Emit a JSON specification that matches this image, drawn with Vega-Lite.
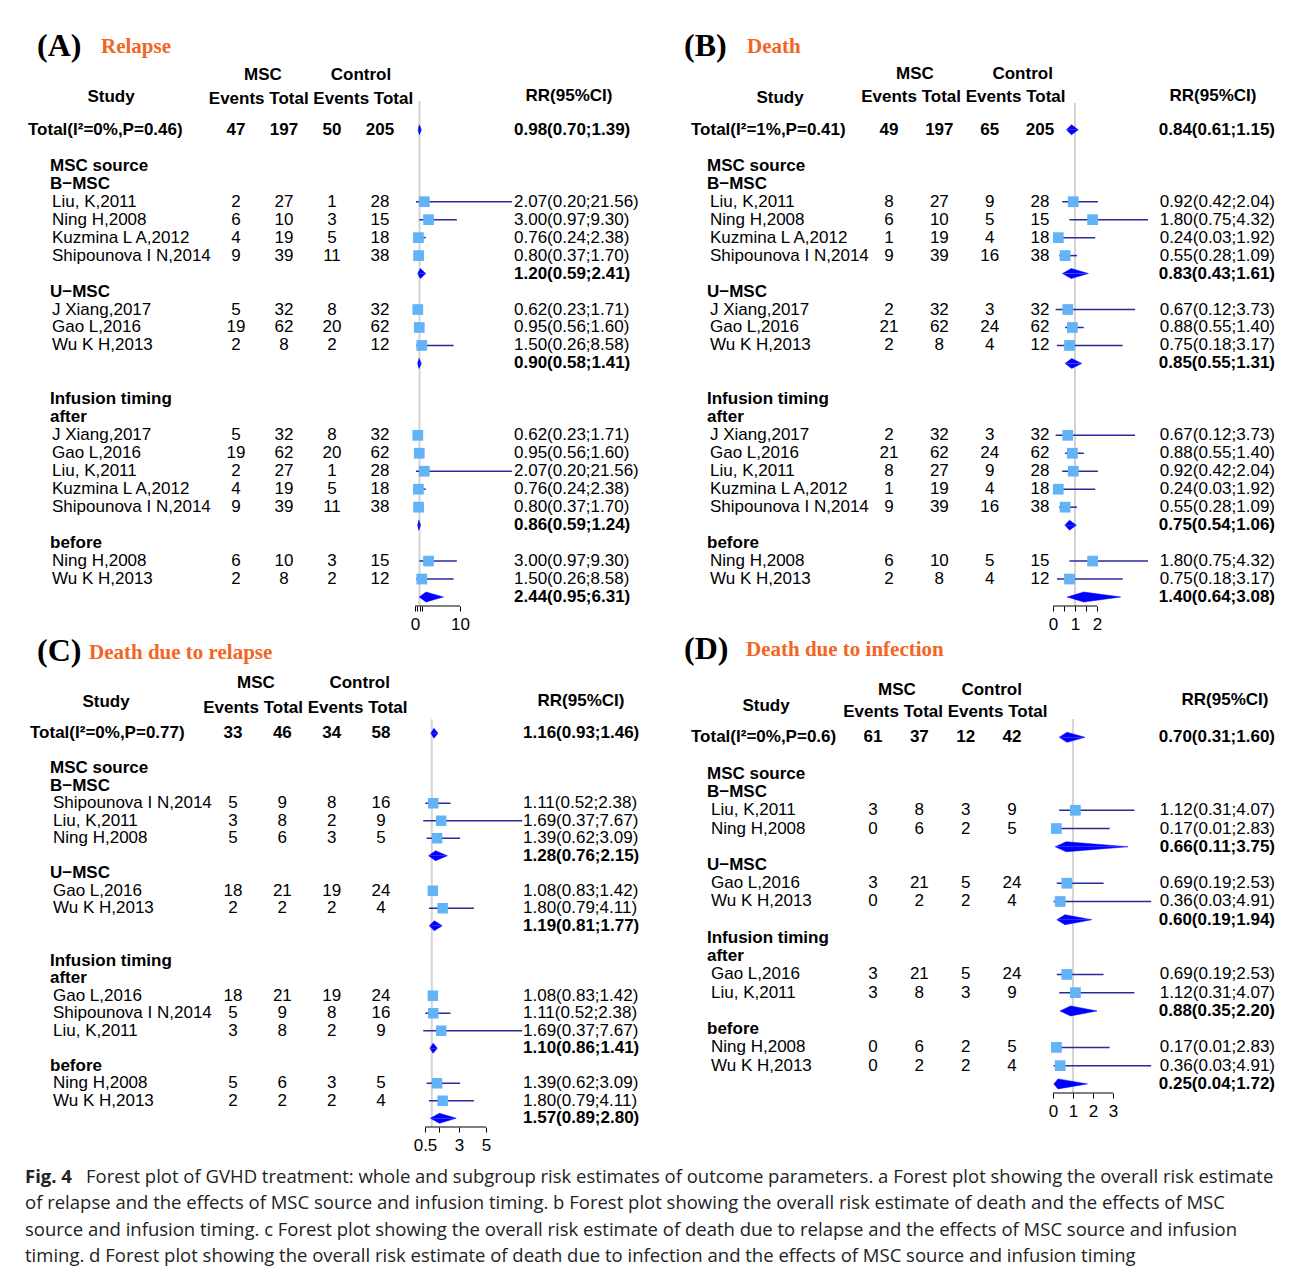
{
"$schema": "https://vega.github.io/schema/vega-lite/v6.json",
"background": "white",
"padding": {"left": 0, "top": 30, "right": 0, "bottom": 0},
"config": {
  "view": {"stroke": null},
  "text": {"font": "Liberation Sans", "fontSize": 17, "color": "#000", "baseline": "middle"},
  "axis": {"domain": false, "grid": false, "tickSize": 5, "tickColor": "#000", "tickWidth": 1, "labelColor": "#000", "labelFont": "Liberation Sans", "labelFontSize": 17, "labelPadding": 5, "labelFlush": false, "labelOverlap": false, "labelBound": false}
},
"datasets": {
"vertex": [{"k":"lo","peak":0},{"k":"rr","peak":1},{"k":"hi","peak":0}],
"caption": [
{"line":1,"lead":"Fig. 4","text":"Forest plot of GVHD treatment: whole and subgroup risk estimates of outcome parameters. a Forest plot showing the overall risk estimate"},
{"line":2,"text":"of relapse and the effects of MSC source and infusion timing. b Forest plot showing the overall risk estimate of death and the effects of MSC"},
{"line":3,"text":"source and infusion timing. c Forest plot showing the overall risk estimate of death due to relapse and the effects of MSC source and infusion"},
{"line":4,"text":"timing. d Forest plot showing the overall risk estimate of death due to infection and the effects of MSC source and infusion timing"}
],
"A": [
{"row":0,"label":"Total(I²=0%,P=0.46)","type":"total","e1":47,"n1":197,"e2":50,"n2":205,"rr":0.98,"lo":0.70,"hi":1.39,"ci":"0.98(0.70;1.39)"},
{"row":2,"label":"MSC source","type":"group"},
{"row":3,"label":"B−MSC","type":"sub"},
{"row":4,"label":"Liu, K,2011","type":"study","e1":2,"n1":27,"e2":1,"n2":28,"rr":2.07,"lo":0.2,"hi":21.56,"ci":"2.07(0.20;21.56)"},
{"row":5,"label":"Ning H,2008","type":"study","e1":6,"n1":10,"e2":3,"n2":15,"rr":3.0,"lo":0.97,"hi":9.3,"ci":"3.00(0.97;9.30)"},
{"row":6,"label":"Kuzmina L A,2012","type":"study","e1":4,"n1":19,"e2":5,"n2":18,"rr":0.76,"lo":0.24,"hi":2.38,"ci":"0.76(0.24;2.38)"},
{"row":7,"label":"Shipounova I N,2014","type":"study","e1":9,"n1":39,"e2":11,"n2":38,"rr":0.8,"lo":0.37,"hi":1.7,"ci":"0.80(0.37;1.70)"},
{"row":8,"type":"pooled","rr":1.2,"lo":0.59,"hi":2.41,"ci":"1.20(0.59;2.41)"},
{"row":9,"label":"U−MSC","type":"sub"},
{"row":10,"label":"J Xiang,2017","type":"study","e1":5,"n1":32,"e2":8,"n2":32,"rr":0.62,"lo":0.23,"hi":1.71,"ci":"0.62(0.23;1.71)"},
{"row":11,"label":"Gao L,2016","type":"study","e1":19,"n1":62,"e2":20,"n2":62,"rr":0.95,"lo":0.56,"hi":1.6,"ci":"0.95(0.56;1.60)"},
{"row":12,"label":"Wu K H,2013","type":"study","e1":2,"n1":8,"e2":2,"n2":12,"rr":1.5,"lo":0.26,"hi":8.58,"ci":"1.50(0.26;8.58)"},
{"row":13,"type":"pooled","rr":0.9,"lo":0.58,"hi":1.41,"ci":"0.90(0.58;1.41)"},
{"row":15,"label":"Infusion timing","type":"group"},
{"row":16,"label":"after","type":"sub"},
{"row":17,"label":"J Xiang,2017","type":"study","e1":5,"n1":32,"e2":8,"n2":32,"rr":0.62,"lo":0.23,"hi":1.71,"ci":"0.62(0.23;1.71)"},
{"row":18,"label":"Gao L,2016","type":"study","e1":19,"n1":62,"e2":20,"n2":62,"rr":0.95,"lo":0.56,"hi":1.6,"ci":"0.95(0.56;1.60)"},
{"row":19,"label":"Liu, K,2011","type":"study","e1":2,"n1":27,"e2":1,"n2":28,"rr":2.07,"lo":0.2,"hi":21.56,"ci":"2.07(0.20;21.56)"},
{"row":20,"label":"Kuzmina L A,2012","type":"study","e1":4,"n1":19,"e2":5,"n2":18,"rr":0.76,"lo":0.24,"hi":2.38,"ci":"0.76(0.24;2.38)"},
{"row":21,"label":"Shipounova I N,2014","type":"study","e1":9,"n1":39,"e2":11,"n2":38,"rr":0.8,"lo":0.37,"hi":1.7,"ci":"0.80(0.37;1.70)"},
{"row":22,"type":"pooled","rr":0.86,"lo":0.59,"hi":1.24,"ci":"0.86(0.59;1.24)"},
{"row":23,"label":"before","type":"sub"},
{"row":24,"label":"Ning H,2008","type":"study","e1":6,"n1":10,"e2":3,"n2":15,"rr":3.0,"lo":0.97,"hi":9.3,"ci":"3.00(0.97;9.30)"},
{"row":25,"label":"Wu K H,2013","type":"study","e1":2,"n1":8,"e2":2,"n2":12,"rr":1.5,"lo":0.26,"hi":8.58,"ci":"1.50(0.26;8.58)"},
{"row":26,"type":"pooled","rr":2.44,"lo":0.95,"hi":6.31,"ci":"2.44(0.95;6.31)"}
],
"B": [
{"row":0,"label":"Total(I²=1%,P=0.41)","type":"total","e1":49,"n1":197,"e2":65,"n2":205,"rr":0.84,"lo":0.61,"hi":1.15,"ci":"0.84(0.61;1.15)"},
{"row":2,"label":"MSC source","type":"group"},
{"row":3,"label":"B−MSC","type":"sub"},
{"row":4,"label":"Liu, K,2011","type":"study","e1":8,"n1":27,"e2":9,"n2":28,"rr":0.92,"lo":0.42,"hi":2.04,"ci":"0.92(0.42;2.04)"},
{"row":5,"label":"Ning H,2008","type":"study","e1":6,"n1":10,"e2":5,"n2":15,"rr":1.8,"lo":0.75,"hi":4.32,"ci":"1.80(0.75;4.32)"},
{"row":6,"label":"Kuzmina L A,2012","type":"study","e1":1,"n1":19,"e2":4,"n2":18,"rr":0.24,"lo":0.03,"hi":1.92,"ci":"0.24(0.03;1.92)"},
{"row":7,"label":"Shipounova I N,2014","type":"study","e1":9,"n1":39,"e2":16,"n2":38,"rr":0.55,"lo":0.28,"hi":1.09,"ci":"0.55(0.28;1.09)"},
{"row":8,"type":"pooled","rr":0.83,"lo":0.43,"hi":1.61,"ci":"0.83(0.43;1.61)"},
{"row":9,"label":"U−MSC","type":"sub"},
{"row":10,"label":"J Xiang,2017","type":"study","e1":2,"n1":32,"e2":3,"n2":32,"rr":0.67,"lo":0.12,"hi":3.73,"ci":"0.67(0.12;3.73)"},
{"row":11,"label":"Gao L,2016","type":"study","e1":21,"n1":62,"e2":24,"n2":62,"rr":0.88,"lo":0.55,"hi":1.4,"ci":"0.88(0.55;1.40)"},
{"row":12,"label":"Wu K H,2013","type":"study","e1":2,"n1":8,"e2":4,"n2":12,"rr":0.75,"lo":0.18,"hi":3.17,"ci":"0.75(0.18;3.17)"},
{"row":13,"type":"pooled","rr":0.85,"lo":0.55,"hi":1.31,"ci":"0.85(0.55;1.31)"},
{"row":15,"label":"Infusion timing","type":"group"},
{"row":16,"label":"after","type":"sub"},
{"row":17,"label":"J Xiang,2017","type":"study","e1":2,"n1":32,"e2":3,"n2":32,"rr":0.67,"lo":0.12,"hi":3.73,"ci":"0.67(0.12;3.73)"},
{"row":18,"label":"Gao L,2016","type":"study","e1":21,"n1":62,"e2":24,"n2":62,"rr":0.88,"lo":0.55,"hi":1.4,"ci":"0.88(0.55;1.40)"},
{"row":19,"label":"Liu, K,2011","type":"study","e1":8,"n1":27,"e2":9,"n2":28,"rr":0.92,"lo":0.42,"hi":2.04,"ci":"0.92(0.42;2.04)"},
{"row":20,"label":"Kuzmina L A,2012","type":"study","e1":1,"n1":19,"e2":4,"n2":18,"rr":0.24,"lo":0.03,"hi":1.92,"ci":"0.24(0.03;1.92)"},
{"row":21,"label":"Shipounova I N,2014","type":"study","e1":9,"n1":39,"e2":16,"n2":38,"rr":0.55,"lo":0.28,"hi":1.09,"ci":"0.55(0.28;1.09)"},
{"row":22,"type":"pooled","rr":0.75,"lo":0.54,"hi":1.06,"ci":"0.75(0.54;1.06)"},
{"row":23,"label":"before","type":"sub"},
{"row":24,"label":"Ning H,2008","type":"study","e1":6,"n1":10,"e2":5,"n2":15,"rr":1.8,"lo":0.75,"hi":4.32,"ci":"1.80(0.75;4.32)"},
{"row":25,"label":"Wu K H,2013","type":"study","e1":2,"n1":8,"e2":4,"n2":12,"rr":0.75,"lo":0.18,"hi":3.17,"ci":"0.75(0.18;3.17)"},
{"row":26,"type":"pooled","rr":1.4,"lo":0.64,"hi":3.08,"ci":"1.40(0.64;3.08)"}
],
"C": [
{"row":0,"label":"Total(I²=0%,P=0.77)","type":"total","e1":33,"n1":46,"e2":34,"n2":58,"rr":1.16,"lo":0.93,"hi":1.46,"ci":"1.16(0.93;1.46)"},
{"row":2,"label":"MSC source","type":"group"},
{"row":3,"label":"B−MSC","type":"sub"},
{"row":4,"label":"Shipounova I N,2014","type":"study","e1":5,"n1":9,"e2":8,"n2":16,"rr":1.11,"lo":0.52,"hi":2.38,"ci":"1.11(0.52;2.38)"},
{"row":5,"label":"Liu, K,2011","type":"study","e1":3,"n1":8,"e2":2,"n2":9,"rr":1.69,"lo":0.37,"hi":7.67,"ci":"1.69(0.37;7.67)"},
{"row":6,"label":"Ning H,2008","type":"study","e1":5,"n1":6,"e2":3,"n2":5,"rr":1.39,"lo":0.62,"hi":3.09,"ci":"1.39(0.62;3.09)"},
{"row":7,"type":"pooled","rr":1.28,"lo":0.76,"hi":2.15,"ci":"1.28(0.76;2.15)"},
{"row":8,"label":"U−MSC","type":"sub"},
{"row":9,"label":"Gao L,2016","type":"study","e1":18,"n1":21,"e2":19,"n2":24,"rr":1.08,"lo":0.83,"hi":1.42,"ci":"1.08(0.83;1.42)"},
{"row":10,"label":"Wu K H,2013","type":"study","e1":2,"n1":2,"e2":2,"n2":4,"rr":1.8,"lo":0.79,"hi":4.11,"ci":"1.80(0.79;4.11)"},
{"row":11,"type":"pooled","rr":1.19,"lo":0.81,"hi":1.77,"ci":"1.19(0.81;1.77)"},
{"row":13,"label":"Infusion timing","type":"group"},
{"row":14,"label":"after","type":"sub"},
{"row":15,"label":"Gao L,2016","type":"study","e1":18,"n1":21,"e2":19,"n2":24,"rr":1.08,"lo":0.83,"hi":1.42,"ci":"1.08(0.83;1.42)"},
{"row":16,"label":"Shipounova I N,2014","type":"study","e1":5,"n1":9,"e2":8,"n2":16,"rr":1.11,"lo":0.52,"hi":2.38,"ci":"1.11(0.52;2.38)"},
{"row":17,"label":"Liu, K,2011","type":"study","e1":3,"n1":8,"e2":2,"n2":9,"rr":1.69,"lo":0.37,"hi":7.67,"ci":"1.69(0.37;7.67)"},
{"row":18,"type":"pooled","rr":1.1,"lo":0.86,"hi":1.41,"ci":"1.10(0.86;1.41)"},
{"row":19,"label":"before","type":"sub"},
{"row":20,"label":"Ning H,2008","type":"study","e1":5,"n1":6,"e2":3,"n2":5,"rr":1.39,"lo":0.62,"hi":3.09,"ci":"1.39(0.62;3.09)"},
{"row":21,"label":"Wu K H,2013","type":"study","e1":2,"n1":2,"e2":2,"n2":4,"rr":1.8,"lo":0.79,"hi":4.11,"ci":"1.80(0.79;4.11)"},
{"row":22,"type":"pooled","rr":1.57,"lo":0.89,"hi":2.8,"ci":"1.57(0.89;2.80)"}
],
"D": [
{"row":0,"label":"Total(I²=0%,P=0.6)","type":"total","e1":61,"n1":37,"e2":12,"n2":42,"rr":0.7,"lo":0.31,"hi":1.6,"ci":"0.70(0.31;1.60)"},
{"row":2,"label":"MSC source","type":"group"},
{"row":3,"label":"B−MSC","type":"sub"},
{"row":4,"label":"Liu, K,2011","type":"study","e1":3,"n1":8,"e2":3,"n2":9,"rr":1.12,"lo":0.31,"hi":4.07,"ci":"1.12(0.31;4.07)"},
{"row":5,"label":"Ning H,2008","type":"study","e1":0,"n1":6,"e2":2,"n2":5,"rr":0.17,"lo":0.01,"hi":2.83,"ci":"0.17(0.01;2.83)"},
{"row":6,"type":"pooled","rr":0.66,"lo":0.11,"hi":3.75,"ci":"0.66(0.11;3.75)"},
{"row":7,"label":"U−MSC","type":"sub"},
{"row":8,"label":"Gao L,2016","type":"study","e1":3,"n1":21,"e2":5,"n2":24,"rr":0.69,"lo":0.19,"hi":2.53,"ci":"0.69(0.19;2.53)"},
{"row":9,"label":"Wu K H,2013","type":"study","e1":0,"n1":2,"e2":2,"n2":4,"rr":0.36,"lo":0.03,"hi":4.91,"ci":"0.36(0.03;4.91)"},
{"row":10,"type":"pooled","rr":0.6,"lo":0.19,"hi":1.94,"ci":"0.60(0.19;1.94)"},
{"row":11,"label":"Infusion timing","type":"group"},
{"row":12,"label":"after","type":"sub"},
{"row":13,"label":"Gao L,2016","type":"study","e1":3,"n1":21,"e2":5,"n2":24,"rr":0.69,"lo":0.19,"hi":2.53,"ci":"0.69(0.19;2.53)"},
{"row":14,"label":"Liu, K,2011","type":"study","e1":3,"n1":8,"e2":3,"n2":9,"rr":1.12,"lo":0.31,"hi":4.07,"ci":"1.12(0.31;4.07)"},
{"row":15,"type":"pooled","rr":0.88,"lo":0.35,"hi":2.2,"ci":"0.88(0.35;2.20)"},
{"row":16,"label":"before","type":"sub"},
{"row":17,"label":"Ning H,2008","type":"study","e1":0,"n1":6,"e2":2,"n2":5,"rr":0.17,"lo":0.01,"hi":2.83,"ci":"0.17(0.01;2.83)"},
{"row":18,"label":"Wu K H,2013","type":"study","e1":0,"n1":2,"e2":2,"n2":4,"rr":0.36,"lo":0.03,"hi":4.91,"ci":"0.36(0.03;4.91)"},
{"row":19,"type":"pooled","rr":0.25,"lo":0.04,"hi":1.72,"ci":"0.25(0.04;1.72)"}
]
},
"vconcat": [
{"hconcat": [
{"width":236,"height":575,"data":{"name":"A"},"layer":[
 {"transform":[{"filter":"datum.type==='total'"}],"mark":{"type":"text","align":"left","fontWeight":"bold","dx":28},"encoding":{"x":{"datum":0,"type":"quantitative","scale":{"domain":[0,1]},"axis":null},"y":{"field":"row","type":"quantitative","scale":{"domain":[-5.5,26.5],"reverse":true,"nice":false,"zero":false},"axis":null},"text":{"field":"label"}}},
 {"transform":[{"filter":"datum.type==='group'||datum.type==='sub'"}],"mark":{"type":"text","align":"left","fontWeight":"bold","dx":50},"encoding":{"x":{"datum":0,"type":"quantitative","scale":{"domain":[0,1]},"axis":null},"y":{"field":"row","type":"quantitative","scale":{"domain":[-5.5,26.5],"reverse":true,"nice":false,"zero":false},"axis":null},"text":{"field":"label"}}},
 {"transform":[{"filter":"datum.type==='study'"}],"mark":{"type":"text","align":"left","dx":52},"encoding":{"x":{"datum":0,"type":"quantitative","scale":{"domain":[0,1]},"axis":null},"y":{"field":"row","type":"quantitative","scale":{"domain":[-5.5,26.5],"reverse":true,"nice":false,"zero":false},"axis":null},"text":{"field":"label"}}},
 {"data":{"values":[{"t":"Study"}]},"mark":{"type":"text","fontWeight":"bold","dx":111},"encoding":{"x":{"datum":0,"type":"quantitative","scale":{"domain":[0,1]},"axis":null},"y":{"datum":-1.8,"type":"quantitative","scale":{"domain":[-5.5,26.5],"reverse":true,"nice":false,"zero":false},"axis":null},"text":{"field":"t"}}},
 {"data":{"values":[{"t":"(A)"}]},"mark":{"type":"text","align":"left","font":"Liberation Serif","fontSize":32,"fontWeight":"bold","dx":37},"encoding":{"x":{"datum":0,"type":"quantitative","scale":{"domain":[0,1]},"axis":null},"y":{"datum":-4.65,"type":"quantitative","scale":{"domain":[-5.5,26.5],"reverse":true,"nice":false,"zero":false},"axis":null},"text":{"field":"t"}}},
 {"data":{"values":[{"t":"Relapse"}]},"mark":{"type":"text","align":"left","font":"Liberation Serif","fontSize":21,"fontWeight":"bold","color":"#f26522","dx":101},"encoding":{"x":{"datum":0,"type":"quantitative","scale":{"domain":[0,1]},"axis":null},"y":{"datum":-4.6,"type":"quantitative","scale":{"domain":[-5.5,26.5],"reverse":true,"nice":false,"zero":false},"axis":null},"text":{"field":"t"}}}
]},
{"width":144,"height":575,"data":{"name":"A"},"layer":[
 {"transform":[{"filter":"datum.type==='study'"},{"fold":["e1","n1","e2","n2"],"as":["col","num"]}],"mark":{"type":"text"},"encoding":{"x":{"field":"col","type":"nominal","scale":{"type":"point","domain":["e1","n1","e2","n2"],"padding":0},"axis":null},"y":{"field":"row","type":"quantitative","scale":{"domain":[-5.5,26.5],"reverse":true,"nice":false,"zero":false},"axis":null},"text":{"field":"num","type":"nominal"}}},
 {"transform":[{"filter":"datum.type==='total'"},{"fold":["e1","n1","e2","n2"],"as":["col","num"]}],"mark":{"type":"text","fontWeight":"bold"},"encoding":{"x":{"field":"col","type":"nominal","scale":{"type":"point","domain":["e1","n1","e2","n2"],"padding":0},"axis":null},"y":{"field":"row","type":"quantitative","scale":{"domain":[-5.5,26.5],"reverse":true,"nice":false,"zero":false},"axis":null},"text":{"field":"num","type":"nominal"}}},
 {"data":{"values":[{"t":"MSC"}]},"mark":{"type":"text","fontWeight":"bold","dx":27},"encoding":{"x":{"datum":"e1","type":"nominal","scale":{"type":"point","domain":["e1","n1","e2","n2"],"padding":0},"axis":null},"y":{"datum":-3.03,"type":"quantitative","scale":{"domain":[-5.5,26.5],"reverse":true,"nice":false,"zero":false},"axis":null},"text":{"field":"t"}}},
 {"data":{"values":[{"t":"Control"}]},"mark":{"type":"text","fontWeight":"bold","dx":29},"encoding":{"x":{"datum":"e2","type":"nominal","scale":{"type":"point","domain":["e1","n1","e2","n2"],"padding":0},"axis":null},"y":{"datum":-3.03,"type":"quantitative","scale":{"domain":[-5.5,26.5],"reverse":true,"nice":false,"zero":false},"axis":null},"text":{"field":"t"}}},
 {"data":{"values":[{"t":"Events Total Events Total"}]},"mark":{"type":"text","fontWeight":"bold","dx":27},"encoding":{"x":{"datum":"n1","type":"nominal","scale":{"type":"point","domain":["e1","n1","e2","n2"],"padding":0},"axis":null},"y":{"datum":-1.7,"type":"quantitative","scale":{"domain":[-5.5,26.5],"reverse":true,"nice":false,"zero":false},"axis":null},"text":{"field":"t"}}}
]},
{"width":132,"height":575,"data":{"name":"A"},"resolve":{"scale":{"yOffset":"independent","y":"independent"}},"layer":[
 {"data":{"values":[{}]},"mark":{"type":"rule","color":"#d4d4d4","strokeWidth":2},"encoding":{"x":{"datum":1,"type":"quantitative","scale":{"domain":[-7.778,21.556],"nice":false,"zero":false},"axis":{"values":[0,0.5,1,1.5,10],"format":"~g","labelExpr":"datum.value==0||datum.value==10?datum.label:''","title":null}},"y":{"datum":-1.6,"type":"quantitative","scale":{"domain":[-5.5,26.5],"reverse":true,"nice":false,"zero":false},"axis":null},"y2":{"datum":26.5}}},
 {"data":{"values":[{}]},"mark":{"type":"rule","color":"#000","strokeWidth":1},"encoding":{"x":{"datum":0,"type":"quantitative","scale":{"domain":[-7.778,21.556],"nice":false,"zero":false},"axis":{"values":[0,0.5,1,1.5,10],"format":"~g","labelExpr":"datum.value==0||datum.value==10?datum.label:''","title":null}},"x2":{"datum":10},"y":{"datum":26.5,"type":"quantitative","scale":{"domain":[-5.5,26.5],"reverse":true,"nice":false,"zero":false},"axis":null}}},
 {"transform":[{"filter":"datum.type==='study'"}],"mark":{"type":"rule","color":"#2a2a9c","strokeWidth":1.5},"encoding":{"x":{"field":"lo","type":"quantitative","scale":{"domain":[-7.778,21.556],"nice":false,"zero":false},"axis":{"values":[0,0.5,1,1.5,10],"format":"~g","labelExpr":"datum.value==0||datum.value==10?datum.label:''","title":null}},"x2":{"field":"hi"},"y":{"field":"row","type":"quantitative","scale":{"domain":[-5.5,26.5],"reverse":true,"nice":false,"zero":false},"axis":null}}},
 {"transform":[{"filter":"datum.type==='study'"}],"mark":{"type":"point","shape":"square","filled":true,"color":"#62b4f7","opacity":1,"size":115},"encoding":{"x":{"field":"rr","type":"quantitative","scale":{"domain":[-7.778,21.556],"nice":false,"zero":false},"axis":{"values":[0,0.5,1,1.5,10],"format":"~g","labelExpr":"datum.value==0||datum.value==10?datum.label:''","title":null}},"y":{"field":"row","type":"quantitative","scale":{"domain":[-5.5,26.5],"reverse":true,"nice":false,"zero":false},"axis":null}}},
 {"transform":[{"filter":"datum.type==='pooled'||datum.type==='total'"},{"fold":["lo","rr","hi"],"as":["k","v"]},{"lookup":"k","from":{"data":{"name":"vertex"},"key":"k","fields":["peak"]}}],"mark":{"type":"line","filled":true,"fill":"#0000ff","stroke":"#0000ff","strokeWidth":0.5},"encoding":{"x":{"field":"v","type":"quantitative","scale":{"domain":[-7.778,21.556],"nice":false,"zero":false},"axis":{"values":[0,0.5,1,1.5,10],"format":"~g","labelExpr":"datum.value==0||datum.value==10?datum.label:''","title":null}},"y":{"field":"row","type":"ordinal","scale":{"type":"band","domain":[-5,-4,-3,-2,-1,0,1,2,3,4,5,6,7,8,9,10,11,12,13,14,15,16,17,18,19,20,21,22,23,24,25,26],"paddingInner":0,"paddingOuter":0},"axis":null},"yOffset":{"field":"peak","type":"quantitative","scale":{"domain":[0,1],"range":[8.98,3.98]}},"detail":{"field":"row","type":"nominal"},"order":{"field":"v","type":"quantitative"}}},
 {"transform":[{"filter":"datum.type==='pooled'||datum.type==='total'"},{"fold":["lo","rr","hi"],"as":["k","v"]},{"lookup":"k","from":{"data":{"name":"vertex"},"key":"k","fields":["peak"]}}],"mark":{"type":"line","filled":true,"fill":"#0000ff","stroke":"#0000ff","strokeWidth":0.5},"encoding":{"x":{"field":"v","type":"quantitative","scale":{"domain":[-7.778,21.556],"nice":false,"zero":false},"axis":{"values":[0,0.5,1,1.5,10],"format":"~g","labelExpr":"datum.value==0||datum.value==10?datum.label:''","title":null}},"y":{"field":"row","type":"ordinal","scale":{"type":"band","domain":[-5,-4,-3,-2,-1,0,1,2,3,4,5,6,7,8,9,10,11,12,13,14,15,16,17,18,19,20,21,22,23,24,25,26],"paddingInner":0,"paddingOuter":0},"axis":null},"yOffset":{"field":"peak","type":"quantitative","scale":{"domain":[0,1],"range":[8.98,13.98]}},"detail":{"field":"row","type":"nominal"},"order":{"field":"v","type":"quantitative"}}}
]},
{"width":126,"height":575,"data":{"name":"A"},"layer":[
 {"transform":[{"filter":"datum.type==='study'"}],"mark":{"type":"text","align":"left","dx":2},"encoding":{"x":{"datum":0,"type":"quantitative","scale":{"domain":[0,1]},"axis":null},"y":{"field":"row","type":"quantitative","scale":{"domain":[-5.5,26.5],"reverse":true,"nice":false,"zero":false},"axis":null},"text":{"field":"ci"}}},
 {"transform":[{"filter":"datum.type==='pooled'||datum.type==='total'"}],"mark":{"type":"text","align":"left","fontWeight":"bold","dx":2},"encoding":{"x":{"datum":0,"type":"quantitative","scale":{"domain":[0,1]},"axis":null},"y":{"field":"row","type":"quantitative","scale":{"domain":[-5.5,26.5],"reverse":true,"nice":false,"zero":false},"axis":null},"text":{"field":"ci"}}},
 {"data":{"values":[{"t":"RR(95%CI)"}]},"mark":{"type":"text","fontWeight":"bold","dx":57},"encoding":{"x":{"datum":0,"type":"quantitative","scale":{"domain":[0,1]},"axis":null},"y":{"datum":-1.86,"type":"quantitative","scale":{"domain":[-5.5,26.5],"reverse":true,"nice":false,"zero":false},"axis":null},"text":{"field":"t"}}}
]},
{"width":251,"height":575,"data":{"name":"B"},"layer":[
 {"transform":[{"filter":"datum.type==='total'"}],"mark":{"type":"text","align":"left","fontWeight":"bold","dx":53},"encoding":{"x":{"datum":0,"type":"quantitative","scale":{"domain":[0,1]},"axis":null},"y":{"field":"row","type":"quantitative","scale":{"domain":[-5.5,26.5],"reverse":true,"nice":false,"zero":false},"axis":null},"text":{"field":"label"}}},
 {"transform":[{"filter":"datum.type==='group'||datum.type==='sub'"}],"mark":{"type":"text","align":"left","fontWeight":"bold","dx":69},"encoding":{"x":{"datum":0,"type":"quantitative","scale":{"domain":[0,1]},"axis":null},"y":{"field":"row","type":"quantitative","scale":{"domain":[-5.5,26.5],"reverse":true,"nice":false,"zero":false},"axis":null},"text":{"field":"label"}}},
 {"transform":[{"filter":"datum.type==='study'"}],"mark":{"type":"text","align":"left","dx":72},"encoding":{"x":{"datum":0,"type":"quantitative","scale":{"domain":[0,1]},"axis":null},"y":{"field":"row","type":"quantitative","scale":{"domain":[-5.5,26.5],"reverse":true,"nice":false,"zero":false},"axis":null},"text":{"field":"label"}}},
 {"data":{"values":[{"t":"Study"}]},"mark":{"type":"text","fontWeight":"bold","dx":142},"encoding":{"x":{"datum":0,"type":"quantitative","scale":{"domain":[0,1]},"axis":null},"y":{"datum":-1.75,"type":"quantitative","scale":{"domain":[-5.5,26.5],"reverse":true,"nice":false,"zero":false},"axis":null},"text":{"field":"t"}}},
 {"data":{"values":[{"t":"(B)"}]},"mark":{"type":"text","align":"left","font":"Liberation Serif","fontSize":32,"fontWeight":"bold","dx":46},"encoding":{"x":{"datum":0,"type":"quantitative","scale":{"domain":[0,1]},"axis":null},"y":{"datum":-4.65,"type":"quantitative","scale":{"domain":[-5.5,26.5],"reverse":true,"nice":false,"zero":false},"axis":null},"text":{"field":"t"}}},
 {"data":{"values":[{"t":"Death"}]},"mark":{"type":"text","align":"left","font":"Liberation Serif","fontSize":21,"fontWeight":"bold","color":"#f26522","dx":109},"encoding":{"x":{"datum":0,"type":"quantitative","scale":{"domain":[0,1]},"axis":null},"y":{"datum":-4.6,"type":"quantitative","scale":{"domain":[-5.5,26.5],"reverse":true,"nice":false,"zero":false},"axis":null},"text":{"field":"t"}}}
]},
{"width":151,"height":575,"data":{"name":"B"},"layer":[
 {"transform":[{"filter":"datum.type==='study'"},{"fold":["e1","n1","e2","n2"],"as":["col","num"]}],"mark":{"type":"text"},"encoding":{"x":{"field":"col","type":"nominal","scale":{"type":"point","domain":["e1","n1","e2","n2"],"padding":0},"axis":null},"y":{"field":"row","type":"quantitative","scale":{"domain":[-5.5,26.5],"reverse":true,"nice":false,"zero":false},"axis":null},"text":{"field":"num","type":"nominal"}}},
 {"transform":[{"filter":"datum.type==='total'"},{"fold":["e1","n1","e2","n2"],"as":["col","num"]}],"mark":{"type":"text","fontWeight":"bold"},"encoding":{"x":{"field":"col","type":"nominal","scale":{"type":"point","domain":["e1","n1","e2","n2"],"padding":0},"axis":null},"y":{"field":"row","type":"quantitative","scale":{"domain":[-5.5,26.5],"reverse":true,"nice":false,"zero":false},"axis":null},"text":{"field":"num","type":"nominal"}}},
 {"data":{"values":[{"t":"MSC"}]},"mark":{"type":"text","fontWeight":"bold","dx":26},"encoding":{"x":{"datum":"e1","type":"nominal","scale":{"type":"point","domain":["e1","n1","e2","n2"],"padding":0},"axis":null},"y":{"datum":-3.1,"type":"quantitative","scale":{"domain":[-5.5,26.5],"reverse":true,"nice":false,"zero":false},"axis":null},"text":{"field":"t"}}},
 {"data":{"values":[{"t":"Control"}]},"mark":{"type":"text","fontWeight":"bold","dx":33},"encoding":{"x":{"datum":"e2","type":"nominal","scale":{"type":"point","domain":["e1","n1","e2","n2"],"padding":0},"axis":null},"y":{"datum":-3.1,"type":"quantitative","scale":{"domain":[-5.5,26.5],"reverse":true,"nice":false,"zero":false},"axis":null},"text":{"field":"t"}}},
 {"data":{"values":[{"t":"Events Total Events Total"}]},"mark":{"type":"text","fontWeight":"bold","dx":24},"encoding":{"x":{"datum":"n1","type":"nominal","scale":{"type":"point","domain":["e1","n1","e2","n2"],"padding":0},"axis":null},"y":{"datum":-1.8,"type":"quantitative","scale":{"domain":[-5.5,26.5],"reverse":true,"nice":false,"zero":false},"axis":null},"text":{"field":"t"}}}
]},
{"width":110,"height":575,"data":{"name":"B"},"resolve":{"scale":{"yOffset":"independent","y":"independent"}},"layer":[
 {"data":{"values":[{}]},"mark":{"type":"rule","color":"#d4d4d4","strokeWidth":2},"encoding":{"x":{"datum":1,"type":"quantitative","scale":{"domain":[-0.591,4.409],"nice":false,"zero":false},"axis":{"values":[0,0.5,1,1.5,2],"format":"~g","labelExpr":"datum.value==0||datum.value==1||datum.value==2?datum.label:''","title":null}},"y":{"datum":-1.5,"type":"quantitative","scale":{"domain":[-5.5,26.5],"reverse":true,"nice":false,"zero":false},"axis":null},"y2":{"datum":26.5}}},
 {"data":{"values":[{}]},"mark":{"type":"rule","color":"#000","strokeWidth":1},"encoding":{"x":{"datum":0,"type":"quantitative","scale":{"domain":[-0.591,4.409],"nice":false,"zero":false},"axis":{"values":[0,0.5,1,1.5,2],"format":"~g","labelExpr":"datum.value==0||datum.value==1||datum.value==2?datum.label:''","title":null}},"x2":{"datum":2},"y":{"datum":26.5,"type":"quantitative","scale":{"domain":[-5.5,26.5],"reverse":true,"nice":false,"zero":false},"axis":null}}},
 {"transform":[{"filter":"datum.type==='study'"}],"mark":{"type":"rule","color":"#2a2a9c","strokeWidth":1.5},"encoding":{"x":{"field":"lo","type":"quantitative","scale":{"domain":[-0.591,4.409],"nice":false,"zero":false},"axis":{"values":[0,0.5,1,1.5,2],"format":"~g","labelExpr":"datum.value==0||datum.value==1||datum.value==2?datum.label:''","title":null}},"x2":{"field":"hi"},"y":{"field":"row","type":"quantitative","scale":{"domain":[-5.5,26.5],"reverse":true,"nice":false,"zero":false},"axis":null}}},
 {"transform":[{"filter":"datum.type==='study'"}],"mark":{"type":"point","shape":"square","filled":true,"color":"#62b4f7","opacity":1,"size":115},"encoding":{"x":{"field":"rr","type":"quantitative","scale":{"domain":[-0.591,4.409],"nice":false,"zero":false},"axis":{"values":[0,0.5,1,1.5,2],"format":"~g","labelExpr":"datum.value==0||datum.value==1||datum.value==2?datum.label:''","title":null}},"y":{"field":"row","type":"quantitative","scale":{"domain":[-5.5,26.5],"reverse":true,"nice":false,"zero":false},"axis":null}}},
 {"transform":[{"filter":"datum.type==='pooled'||datum.type==='total'"},{"fold":["lo","rr","hi"],"as":["k","v"]},{"lookup":"k","from":{"data":{"name":"vertex"},"key":"k","fields":["peak"]}}],"mark":{"type":"line","filled":true,"fill":"#0000ff","stroke":"#0000ff","strokeWidth":0.5},"encoding":{"x":{"field":"v","type":"quantitative","scale":{"domain":[-0.591,4.409],"nice":false,"zero":false},"axis":{"values":[0,0.5,1,1.5,2],"format":"~g","labelExpr":"datum.value==0||datum.value==1||datum.value==2?datum.label:''","title":null}},"y":{"field":"row","type":"ordinal","scale":{"type":"band","domain":[-5,-4,-3,-2,-1,0,1,2,3,4,5,6,7,8,9,10,11,12,13,14,15,16,17,18,19,20,21,22,23,24,25,26],"paddingInner":0,"paddingOuter":0},"axis":null},"yOffset":{"field":"peak","type":"quantitative","scale":{"domain":[0,1],"range":[8.98,3.98]}},"detail":{"field":"row","type":"nominal"},"order":{"field":"v","type":"quantitative"}}},
 {"transform":[{"filter":"datum.type==='pooled'||datum.type==='total'"},{"fold":["lo","rr","hi"],"as":["k","v"]},{"lookup":"k","from":{"data":{"name":"vertex"},"key":"k","fields":["peak"]}}],"mark":{"type":"line","filled":true,"fill":"#0000ff","stroke":"#0000ff","strokeWidth":0.5},"encoding":{"x":{"field":"v","type":"quantitative","scale":{"domain":[-0.591,4.409],"nice":false,"zero":false},"axis":{"values":[0,0.5,1,1.5,2],"format":"~g","labelExpr":"datum.value==0||datum.value==1||datum.value==2?datum.label:''","title":null}},"y":{"field":"row","type":"ordinal","scale":{"type":"band","domain":[-5,-4,-3,-2,-1,0,1,2,3,4,5,6,7,8,9,10,11,12,13,14,15,16,17,18,19,20,21,22,23,24,25,26],"paddingInner":0,"paddingOuter":0},"axis":null},"yOffset":{"field":"peak","type":"quantitative","scale":{"domain":[0,1],"range":[8.98,13.98]}},"detail":{"field":"row","type":"nominal"},"order":{"field":"v","type":"quantitative"}}}
]},
{"width":125,"height":575,"data":{"name":"B"},"layer":[
 {"transform":[{"filter":"datum.type==='study'"}],"mark":{"type":"text","align":"right"},"encoding":{"x":{"datum":1,"type":"quantitative","scale":{"domain":[0,1]},"axis":null},"y":{"field":"row","type":"quantitative","scale":{"domain":[-5.5,26.5],"reverse":true,"nice":false,"zero":false},"axis":null},"text":{"field":"ci"}}},
 {"transform":[{"filter":"datum.type==='pooled'||datum.type==='total'"}],"mark":{"type":"text","align":"right","fontWeight":"bold"},"encoding":{"x":{"datum":1,"type":"quantitative","scale":{"domain":[0,1]},"axis":null},"y":{"field":"row","type":"quantitative","scale":{"domain":[-5.5,26.5],"reverse":true,"nice":false,"zero":false},"axis":null},"text":{"field":"ci"}}},
 {"data":{"values":[{"t":"RR(95%CI)"}]},"mark":{"type":"text","fontWeight":"bold","dx":63},"encoding":{"x":{"datum":0,"type":"quantitative","scale":{"domain":[0,1]},"axis":null},"y":{"datum":-1.86,"type":"quantitative","scale":{"domain":[-5.5,26.5],"reverse":true,"nice":false,"zero":false},"axis":null},"text":{"field":"t"}}}
]}
], "spacing": 0, "bounds": "flush"},
{"hconcat": [
{"width":233,"height":490,"data":{"name":"C"},"layer":[
 {"transform":[{"filter":"datum.type==='total'"}],"mark":{"type":"text","align":"left","fontWeight":"bold","dx":30},"encoding":{"x":{"datum":0,"type":"quantitative","scale":{"domain":[0,1]},"axis":null},"y":{"field":"row","type":"quantitative","scale":{"domain":[-5.5,22.5],"reverse":true,"nice":false,"zero":false},"axis":null},"text":{"field":"label"}}},
 {"transform":[{"filter":"datum.type==='group'||datum.type==='sub'"}],"mark":{"type":"text","align":"left","fontWeight":"bold","dx":50},"encoding":{"x":{"datum":0,"type":"quantitative","scale":{"domain":[0,1]},"axis":null},"y":{"field":"row","type":"quantitative","scale":{"domain":[-5.5,22.5],"reverse":true,"nice":false,"zero":false},"axis":null},"text":{"field":"label"}}},
 {"transform":[{"filter":"datum.type==='study'"}],"mark":{"type":"text","align":"left","dx":53},"encoding":{"x":{"datum":0,"type":"quantitative","scale":{"domain":[0,1]},"axis":null},"y":{"field":"row","type":"quantitative","scale":{"domain":[-5.5,22.5],"reverse":true,"nice":false,"zero":false},"axis":null},"text":{"field":"label"}}},
 {"data":{"values":[{"t":"Study"}]},"mark":{"type":"text","fontWeight":"bold","dx":106},"encoding":{"x":{"datum":0,"type":"quantitative","scale":{"domain":[0,1]},"axis":null},"y":{"datum":-1.78,"type":"quantitative","scale":{"domain":[-5.5,22.5],"reverse":true,"nice":false,"zero":false},"axis":null},"text":{"field":"t"}}},
 {"data":{"values":[{"t":"(C)"}]},"mark":{"type":"text","align":"left","font":"Liberation Serif","fontSize":32,"fontWeight":"bold","dx":37},"encoding":{"x":{"datum":0,"type":"quantitative","scale":{"domain":[0,1]},"axis":null},"y":{"datum":-4.68,"type":"quantitative","scale":{"domain":[-5.5,22.5],"reverse":true,"nice":false,"zero":false},"axis":null},"text":{"field":"t"}}},
 {"data":{"values":[{"t":"Death due to relapse"}]},"mark":{"type":"text","align":"left","font":"Liberation Serif","fontSize":21,"fontWeight":"bold","color":"#f26522","dx":89},"encoding":{"x":{"datum":0,"type":"quantitative","scale":{"domain":[0,1]},"axis":null},"y":{"datum":-4.6,"type":"quantitative","scale":{"domain":[-5.5,22.5],"reverse":true,"nice":false,"zero":false},"axis":null},"text":{"field":"t"}}}
]},
{"width":148,"height":490,"data":{"name":"C"},"layer":[
 {"transform":[{"filter":"datum.type==='study'"},{"fold":["e1","n1","e2","n2"],"as":["col","num"]}],"mark":{"type":"text"},"encoding":{"x":{"field":"col","type":"nominal","scale":{"type":"point","domain":["e1","n1","e2","n2"],"padding":0},"axis":null},"y":{"field":"row","type":"quantitative","scale":{"domain":[-5.5,22.5],"reverse":true,"nice":false,"zero":false},"axis":null},"text":{"field":"num","type":"nominal"}}},
 {"transform":[{"filter":"datum.type==='total'"},{"fold":["e1","n1","e2","n2"],"as":["col","num"]}],"mark":{"type":"text","fontWeight":"bold"},"encoding":{"x":{"field":"col","type":"nominal","scale":{"type":"point","domain":["e1","n1","e2","n2"],"padding":0},"axis":null},"y":{"field":"row","type":"quantitative","scale":{"domain":[-5.5,22.5],"reverse":true,"nice":false,"zero":false},"axis":null},"text":{"field":"num","type":"nominal"}}},
 {"data":{"values":[{"t":"MSC"}]},"mark":{"type":"text","fontWeight":"bold","dx":23},"encoding":{"x":{"datum":"e1","type":"nominal","scale":{"type":"point","domain":["e1","n1","e2","n2"],"padding":0},"axis":null},"y":{"datum":-2.87,"type":"quantitative","scale":{"domain":[-5.5,22.5],"reverse":true,"nice":false,"zero":false},"axis":null},"text":{"field":"t"}}},
 {"data":{"values":[{"t":"Control"}]},"mark":{"type":"text","fontWeight":"bold","dx":28},"encoding":{"x":{"datum":"e2","type":"nominal","scale":{"type":"point","domain":["e1","n1","e2","n2"],"padding":0},"axis":null},"y":{"datum":-2.87,"type":"quantitative","scale":{"domain":[-5.5,22.5],"reverse":true,"nice":false,"zero":false},"axis":null},"text":{"field":"t"}}},
 {"data":{"values":[{"t":"Events Total Events Total"}]},"mark":{"type":"text","fontWeight":"bold","dx":23},"encoding":{"x":{"datum":"n1","type":"nominal","scale":{"type":"point","domain":["e1","n1","e2","n2"],"padding":0},"axis":null},"y":{"datum":-1.45,"type":"quantitative","scale":{"domain":[-5.5,22.5],"reverse":true,"nice":false,"zero":false},"axis":null},"text":{"field":"t"}}}
]},
{"width":141,"height":490,"data":{"name":"C"},"resolve":{"scale":{"yOffset":"independent","y":"independent"}},"layer":[
 {"data":{"values":[{}]},"mark":{"type":"rule","color":"#d4d4d4","strokeWidth":2},"encoding":{"x":{"datum":1,"type":"quantitative","scale":{"domain":[-2.745,7.653],"nice":false,"zero":false},"axis":{"values":[0.5,1.5,3,5],"format":"~g","labelExpr":"datum.value==1.5?'':datum.label","title":null}},"y":{"datum":-0.8,"type":"quantitative","scale":{"domain":[-5.5,22.5],"reverse":true,"nice":false,"zero":false},"axis":null},"y2":{"datum":22.5}}},
 {"data":{"values":[{}]},"mark":{"type":"rule","color":"#000","strokeWidth":1},"encoding":{"x":{"datum":0.5,"type":"quantitative","scale":{"domain":[-2.745,7.653],"nice":false,"zero":false},"axis":{"values":[0.5,1.5,3,5],"format":"~g","labelExpr":"datum.value==1.5?'':datum.label","title":null}},"x2":{"datum":5},"y":{"datum":22.5,"type":"quantitative","scale":{"domain":[-5.5,22.5],"reverse":true,"nice":false,"zero":false},"axis":null}}},
 {"transform":[{"filter":"datum.type==='study'"}],"mark":{"type":"rule","color":"#2a2a9c","strokeWidth":1.5},"encoding":{"x":{"field":"lo","type":"quantitative","scale":{"domain":[-2.745,7.653],"nice":false,"zero":false},"axis":{"values":[0.5,1.5,3,5],"format":"~g","labelExpr":"datum.value==1.5?'':datum.label","title":null}},"x2":{"field":"hi"},"y":{"field":"row","type":"quantitative","scale":{"domain":[-5.5,22.5],"reverse":true,"nice":false,"zero":false},"axis":null}}},
 {"transform":[{"filter":"datum.type==='study'"}],"mark":{"type":"point","shape":"square","filled":true,"color":"#62b4f7","opacity":1,"size":110},"encoding":{"x":{"field":"rr","type":"quantitative","scale":{"domain":[-2.745,7.653],"nice":false,"zero":false},"axis":{"values":[0.5,1.5,3,5],"format":"~g","labelExpr":"datum.value==1.5?'':datum.label","title":null}},"y":{"field":"row","type":"quantitative","scale":{"domain":[-5.5,22.5],"reverse":true,"nice":false,"zero":false},"axis":null}}},
 {"transform":[{"filter":"datum.type==='pooled'||datum.type==='total'"},{"fold":["lo","rr","hi"],"as":["k","v"]},{"lookup":"k","from":{"data":{"name":"vertex"},"key":"k","fields":["peak"]}}],"mark":{"type":"line","filled":true,"fill":"#0000ff","stroke":"#0000ff","strokeWidth":0.5},"encoding":{"x":{"field":"v","type":"quantitative","scale":{"domain":[-2.745,7.653],"nice":false,"zero":false},"axis":{"values":[0.5,1.5,3,5],"format":"~g","labelExpr":"datum.value==1.5?'':datum.label","title":null}},"y":{"field":"row","type":"ordinal","scale":{"type":"band","domain":[-5,-4,-3,-2,-1,0,1,2,3,4,5,6,7,8,9,10,11,12,13,14,15,16,17,18,19,20,21,22],"paddingInner":0,"paddingOuter":0},"axis":null},"yOffset":{"field":"peak","type":"quantitative","scale":{"domain":[0,1],"range":[8.75,3.75]}},"detail":{"field":"row","type":"nominal"},"order":{"field":"v","type":"quantitative"}}},
 {"transform":[{"filter":"datum.type==='pooled'||datum.type==='total'"},{"fold":["lo","rr","hi"],"as":["k","v"]},{"lookup":"k","from":{"data":{"name":"vertex"},"key":"k","fields":["peak"]}}],"mark":{"type":"line","filled":true,"fill":"#0000ff","stroke":"#0000ff","strokeWidth":0.5},"encoding":{"x":{"field":"v","type":"quantitative","scale":{"domain":[-2.745,7.653],"nice":false,"zero":false},"axis":{"values":[0.5,1.5,3,5],"format":"~g","labelExpr":"datum.value==1.5?'':datum.label","title":null}},"y":{"field":"row","type":"ordinal","scale":{"type":"band","domain":[-5,-4,-3,-2,-1,0,1,2,3,4,5,6,7,8,9,10,11,12,13,14,15,16,17,18,19,20,21,22],"paddingInner":0,"paddingOuter":0},"axis":null},"yOffset":{"field":"peak","type":"quantitative","scale":{"domain":[0,1],"range":[8.75,13.75]}},"detail":{"field":"row","type":"nominal"},"order":{"field":"v","type":"quantitative"}}}
]},
{"width":118,"height":490,"data":{"name":"C"},"layer":[
 {"transform":[{"filter":"datum.type==='study'"}],"mark":{"type":"text","align":"left","dx":1},"encoding":{"x":{"datum":0,"type":"quantitative","scale":{"domain":[0,1]},"axis":null},"y":{"field":"row","type":"quantitative","scale":{"domain":[-5.5,22.5],"reverse":true,"nice":false,"zero":false},"axis":null},"text":{"field":"ci"}}},
 {"transform":[{"filter":"datum.type==='pooled'||datum.type==='total'"}],"mark":{"type":"text","align":"left","fontWeight":"bold","dx":1},"encoding":{"x":{"datum":0,"type":"quantitative","scale":{"domain":[0,1]},"axis":null},"y":{"field":"row","type":"quantitative","scale":{"domain":[-5.5,22.5],"reverse":true,"nice":false,"zero":false},"axis":null},"text":{"field":"ci"}}},
 {"data":{"values":[{"t":"RR(95%CI)"}]},"mark":{"type":"text","fontWeight":"bold","dx":59},"encoding":{"x":{"datum":0,"type":"quantitative","scale":{"domain":[0,1]},"axis":null},"y":{"datum":-1.84,"type":"quantitative","scale":{"domain":[-5.5,22.5],"reverse":true,"nice":false,"zero":false},"axis":null},"text":{"field":"t"}}}
]},
{"width":233,"height":456,"data":{"name":"D"},"layer":[
 {"transform":[{"filter":"datum.type==='total'"}],"mark":{"type":"text","align":"left","fontWeight":"bold","dx":51},"encoding":{"x":{"datum":0,"type":"quantitative","scale":{"domain":[0,1]},"axis":null},"y":{"field":"row","type":"quantitative","scale":{"domain":[-5.5,19.5],"reverse":true,"nice":false,"zero":false},"axis":null},"text":{"field":"label"}}},
 {"transform":[{"filter":"datum.type==='group'||datum.type==='sub'"}],"mark":{"type":"text","align":"left","fontWeight":"bold","dx":67},"encoding":{"x":{"datum":0,"type":"quantitative","scale":{"domain":[0,1]},"axis":null},"y":{"field":"row","type":"quantitative","scale":{"domain":[-5.5,19.5],"reverse":true,"nice":false,"zero":false},"axis":null},"text":{"field":"label"}}},
 {"transform":[{"filter":"datum.type==='study'"}],"mark":{"type":"text","align":"left","dx":71},"encoding":{"x":{"datum":0,"type":"quantitative","scale":{"domain":[0,1]},"axis":null},"y":{"field":"row","type":"quantitative","scale":{"domain":[-5.5,19.5],"reverse":true,"nice":false,"zero":false},"axis":null},"text":{"field":"label"}}},
 {"data":{"values":[{"t":"Study"}]},"mark":{"type":"text","fontWeight":"bold","dx":126},"encoding":{"x":{"datum":0,"type":"quantitative","scale":{"domain":[0,1]},"axis":null},"y":{"datum":-1.74,"type":"quantitative","scale":{"domain":[-5.5,19.5],"reverse":true,"nice":false,"zero":false},"axis":null},"text":{"field":"t"}}},
 {"data":{"values":[{"t":"(D)"}]},"mark":{"type":"text","align":"left","font":"Liberation Serif","fontSize":32,"fontWeight":"bold","dx":44},"encoding":{"x":{"datum":0,"type":"quantitative","scale":{"domain":[0,1]},"axis":null},"y":{"datum":-4.86,"type":"quantitative","scale":{"domain":[-5.5,19.5],"reverse":true,"nice":false,"zero":false},"axis":null},"text":{"field":"t"}}},
 {"data":{"values":[{"t":"Death due to infection"}]},"mark":{"type":"text","align":"left","font":"Liberation Serif","fontSize":21,"fontWeight":"bold","color":"#f26522","dx":106},"encoding":{"x":{"datum":0,"type":"quantitative","scale":{"domain":[0,1]},"axis":null},"y":{"datum":-4.8,"type":"quantitative","scale":{"domain":[-5.5,19.5],"reverse":true,"nice":false,"zero":false},"axis":null},"text":{"field":"t"}}}
]},
{"width":139,"height":456,"data":{"name":"D"},"layer":[
 {"transform":[{"filter":"datum.type==='study'"},{"fold":["e1","n1","e2","n2"],"as":["col","num"]}],"mark":{"type":"text"},"encoding":{"x":{"field":"col","type":"nominal","scale":{"type":"point","domain":["e1","n1","e2","n2"],"padding":0},"axis":null},"y":{"field":"row","type":"quantitative","scale":{"domain":[-5.5,19.5],"reverse":true,"nice":false,"zero":false},"axis":null},"text":{"field":"num","type":"nominal"}}},
 {"transform":[{"filter":"datum.type==='total'"},{"fold":["e1","n1","e2","n2"],"as":["col","num"]}],"mark":{"type":"text","fontWeight":"bold"},"encoding":{"x":{"field":"col","type":"nominal","scale":{"type":"point","domain":["e1","n1","e2","n2"],"padding":0},"axis":null},"y":{"field":"row","type":"quantitative","scale":{"domain":[-5.5,19.5],"reverse":true,"nice":false,"zero":false},"axis":null},"text":{"field":"num","type":"nominal"}}},
 {"data":{"values":[{"t":"MSC"}]},"mark":{"type":"text","fontWeight":"bold","dx":24},"encoding":{"x":{"datum":"e1","type":"nominal","scale":{"type":"point","domain":["e1","n1","e2","n2"],"padding":0},"axis":null},"y":{"datum":-2.62,"type":"quantitative","scale":{"domain":[-5.5,19.5],"reverse":true,"nice":false,"zero":false},"axis":null},"text":{"field":"t"}}},
 {"data":{"values":[{"t":"Control"}]},"mark":{"type":"text","fontWeight":"bold","dx":26},"encoding":{"x":{"datum":"e2","type":"nominal","scale":{"type":"point","domain":["e1","n1","e2","n2"],"padding":0},"axis":null},"y":{"datum":-2.62,"type":"quantitative","scale":{"domain":[-5.5,19.5],"reverse":true,"nice":false,"zero":false},"axis":null},"text":{"field":"t"}}},
 {"data":{"values":[{"t":"Events Total Events Total"}]},"mark":{"type":"text","fontWeight":"bold","dx":26},"encoding":{"x":{"datum":"n1","type":"nominal","scale":{"type":"point","domain":["e1","n1","e2","n2"],"padding":0},"axis":null},"y":{"datum":-1.4,"type":"quantitative","scale":{"domain":[-5.5,19.5],"reverse":true,"nice":false,"zero":false},"axis":null},"text":{"field":"t"}}}
]},
{"width":140,"height":456,"data":{"name":"D"},"resolve":{"scale":{"yOffset":"independent","y":"independent"}},"layer":[
 {"data":{"values":[{}]},"mark":{"type":"rule","color":"#d4d4d4","strokeWidth":2},"encoding":{"x":{"datum":1,"type":"quantitative","scale":{"domain":[-2.05,4.95],"nice":false,"zero":false},"axis":{"values":[0,1,2,3],"format":"~g","title":null}},"y":{"datum":-1.0,"type":"quantitative","scale":{"domain":[-5.5,19.5],"reverse":true,"nice":false,"zero":false},"axis":null},"y2":{"datum":19.5}}},
 {"data":{"values":[{}]},"mark":{"type":"rule","color":"#000","strokeWidth":1},"encoding":{"x":{"datum":0,"type":"quantitative","scale":{"domain":[-2.05,4.95],"nice":false,"zero":false},"axis":{"values":[0,1,2,3],"format":"~g","title":null}},"x2":{"datum":3},"y":{"datum":19.5,"type":"quantitative","scale":{"domain":[-5.5,19.5],"reverse":true,"nice":false,"zero":false},"axis":null}}},
 {"transform":[{"filter":"datum.type==='study'"}],"mark":{"type":"rule","color":"#2a2a9c","strokeWidth":1.5},"encoding":{"x":{"field":"lo","type":"quantitative","scale":{"domain":[-2.05,4.95],"nice":false,"zero":false},"axis":{"values":[0,1,2,3],"format":"~g","title":null}},"x2":{"field":"hi"},"y":{"field":"row","type":"quantitative","scale":{"domain":[-5.5,19.5],"reverse":true,"nice":false,"zero":false},"axis":null}}},
 {"transform":[{"filter":"datum.type==='study'"}],"mark":{"type":"point","shape":"square","filled":true,"color":"#62b4f7","opacity":1,"size":115},"encoding":{"x":{"field":"rr","type":"quantitative","scale":{"domain":[-2.05,4.95],"nice":false,"zero":false},"axis":{"values":[0,1,2,3],"format":"~g","title":null}},"y":{"field":"row","type":"quantitative","scale":{"domain":[-5.5,19.5],"reverse":true,"nice":false,"zero":false},"axis":null}}},
 {"transform":[{"filter":"datum.type==='pooled'||datum.type==='total'"},{"fold":["lo","rr","hi"],"as":["k","v"]},{"lookup":"k","from":{"data":{"name":"vertex"},"key":"k","fields":["peak"]}}],"mark":{"type":"line","filled":true,"fill":"#0000ff","stroke":"#0000ff","strokeWidth":0.5},"encoding":{"x":{"field":"v","type":"quantitative","scale":{"domain":[-2.05,4.95],"nice":false,"zero":false},"axis":{"values":[0,1,2,3],"format":"~g","title":null}},"y":{"field":"row","type":"ordinal","scale":{"type":"band","domain":[-5,-4,-3,-2,-1,0,1,2,3,4,5,6,7,8,9,10,11,12,13,14,15,16,17,18,19],"paddingInner":0,"paddingOuter":0},"axis":null},"yOffset":{"field":"peak","type":"quantitative","scale":{"domain":[0,1],"range":[9.12,4.12]}},"detail":{"field":"row","type":"nominal"},"order":{"field":"v","type":"quantitative"}}},
 {"transform":[{"filter":"datum.type==='pooled'||datum.type==='total'"},{"fold":["lo","rr","hi"],"as":["k","v"]},{"lookup":"k","from":{"data":{"name":"vertex"},"key":"k","fields":["peak"]}}],"mark":{"type":"line","filled":true,"fill":"#0000ff","stroke":"#0000ff","strokeWidth":0.5},"encoding":{"x":{"field":"v","type":"quantitative","scale":{"domain":[-2.05,4.95],"nice":false,"zero":false},"axis":{"values":[0,1,2,3],"format":"~g","title":null}},"y":{"field":"row","type":"ordinal","scale":{"type":"band","domain":[-5,-4,-3,-2,-1,0,1,2,3,4,5,6,7,8,9,10,11,12,13,14,15,16,17,18,19],"paddingInner":0,"paddingOuter":0},"axis":null},"yOffset":{"field":"peak","type":"quantitative","scale":{"domain":[0,1],"range":[9.12,14.12]}},"detail":{"field":"row","type":"nominal"},"order":{"field":"v","type":"quantitative"}}}
]},
{"width":123,"height":456,"data":{"name":"D"},"layer":[
 {"transform":[{"filter":"datum.type==='study'"}],"mark":{"type":"text","align":"right"},"encoding":{"x":{"datum":1,"type":"quantitative","scale":{"domain":[0,1]},"axis":null},"y":{"field":"row","type":"quantitative","scale":{"domain":[-5.5,19.5],"reverse":true,"nice":false,"zero":false},"axis":null},"text":{"field":"ci"}}},
 {"transform":[{"filter":"datum.type==='pooled'||datum.type==='total'"}],"mark":{"type":"text","align":"right","fontWeight":"bold"},"encoding":{"x":{"datum":1,"type":"quantitative","scale":{"domain":[0,1]},"axis":null},"y":{"field":"row","type":"quantitative","scale":{"domain":[-5.5,19.5],"reverse":true,"nice":false,"zero":false},"axis":null},"text":{"field":"ci"}}},
 {"data":{"values":[{"t":"RR(95%CI)"}]},"mark":{"type":"text","fontWeight":"bold","dx":73},"encoding":{"x":{"datum":0,"type":"quantitative","scale":{"domain":[0,1]},"axis":null},"y":{"datum":-2.02,"type":"quantitative","scale":{"domain":[-5.5,19.5],"reverse":true,"nice":false,"zero":false},"axis":null},"text":{"field":"t"}}}
]}
], "spacing": 0, "bounds": "flush"},
{"width":1275,"height":110,"data":{"name":"caption"},"layer":[
 {"transform":[{"filter":"datum.line==1"}],"mark":{"type":"text","align":"left","font":"Open Sans","fontSize":18.5,"fontWeight":"bold","color":"#222","dx":25},"encoding":{"x":{"datum":0,"type":"quantitative","scale":{"domain":[0,1]},"axis":null},"y":{"field":"line","type":"quantitative","scale":{"domain":[0.09,4.27],"reverse":true,"nice":false,"zero":false},"axis":null},"text":{"field":"lead"}}},
 {"transform":[{"filter":"datum.line==1"}],"mark":{"type":"text","align":"left","font":"Open Sans","fontSize":18.5,"color":"#222","dx":86},"encoding":{"x":{"datum":0,"type":"quantitative","scale":{"domain":[0,1]},"axis":null},"y":{"field":"line","type":"quantitative","scale":{"domain":[0.09,4.27],"reverse":true,"nice":false,"zero":false},"axis":null},"text":{"field":"text"}}},
 {"transform":[{"filter":"datum.line>1"}],"mark":{"type":"text","align":"left","font":"Open Sans","fontSize":18.5,"color":"#222","dx":25},"encoding":{"x":{"datum":0,"type":"quantitative","scale":{"domain":[0,1]},"axis":null},"y":{"field":"line","type":"quantitative","scale":{"domain":[0.09,4.27],"reverse":true,"nice":false,"zero":false},"axis":null},"text":{"field":"text"}}}
]}
],
"spacing": 0
}
